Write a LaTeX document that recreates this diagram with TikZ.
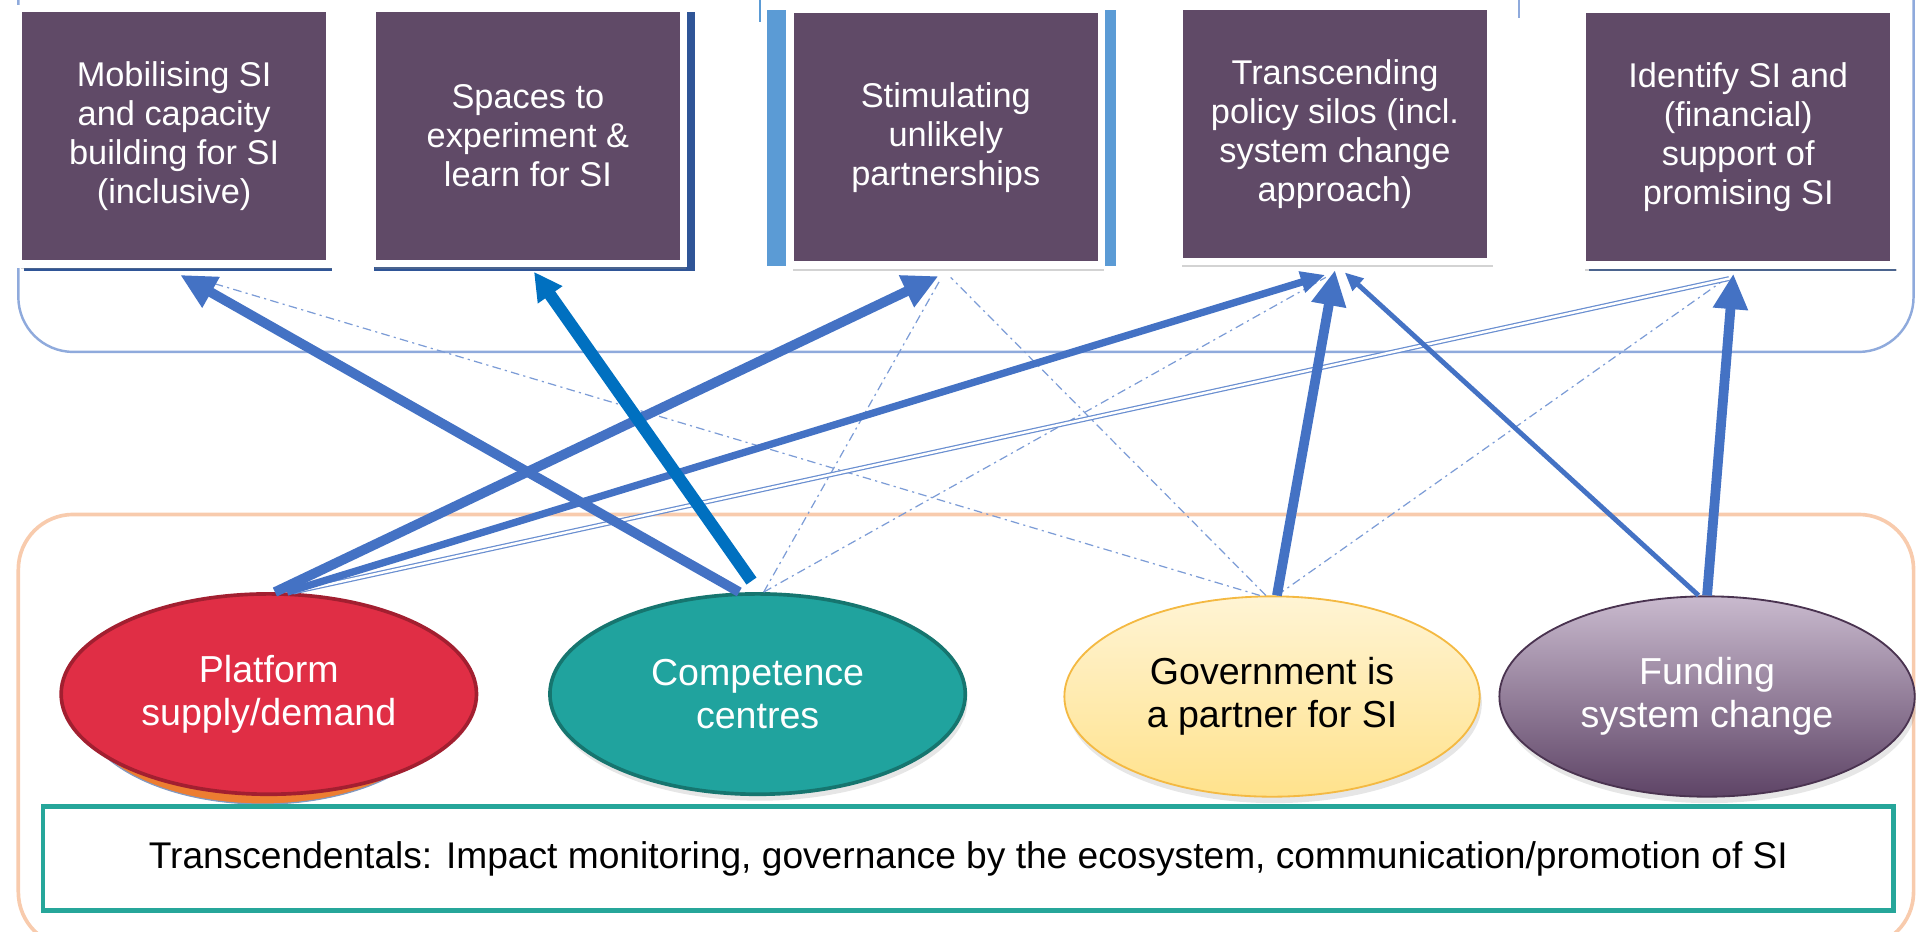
\documentclass[tikz,border=0pt]{standalone}
\usepackage{fontspec}
\setmainfont{Liberation Sans}
\usetikzlibrary{shapes.geometric,arrows.meta,shadows}

\definecolor{boxpurple}{RGB}{96,74,103}
\definecolor{arrowblue}{RGB}{68,114,196}
\definecolor{deepblue}{RGB}{0,112,192}
\definecolor{lineblue}{RGB}{143,170,220}
\definecolor{frameblue}{RGB}{91,155,213}
\definecolor{shadowblue}{RGB}{47,85,151}
\definecolor{peach}{RGB}{248,203,173}
\definecolor{platred}{RGB}{224,46,69}
\definecolor{platborder}{RGB}{162,31,48}
\definecolor{platorange}{RGB}{237,125,49}
\definecolor{compteal}{RGB}{32,163,158}
\definecolor{compborder}{RGB}{22,117,111}
\definecolor{govtop}{RGB}{255,244,212}
\definecolor{govbottom}{RGB}{255,226,140}
\definecolor{govborder}{RGB}{244,185,66}
\definecolor{fundtop}{RGB}{201,186,206}
\definecolor{fundbottom}{RGB}{94,68,102}
\definecolor{fundborder}{RGB}{74,51,80}
\definecolor{tealframe}{RGB}{38,166,154}

\tikzset{
  goalbox/.style={draw=white, line width=0.12cm, fill=boxpurple, text=white,
    minimum width=5.1cm, minimum height=4.18cm, inner sep=0pt, align=center,
    font=\fontsize{16}{18.2}\selectfont,
    drop shadow={opacity=0.35, shadow xshift=1.2pt, shadow yshift=-2.5pt}},
  levercircle/.style={ellipse, line width=0.06cm, minimum width=6.8cm,
    minimum height=3.28cm, inner sep=0pt, align=center,
    font=\fontsize{17.5}{20}\selectfont},
  strongarrow/.style={arrowblue, line width=0.16cm,
    -{Triangle[length=0.58cm,width=0.54cm]}},
  weaklink/.style={arrowblue!70, line width=0.02cm,
    dash pattern=on 4pt off 2pt on 1pt off 2pt}
}

\begin{document}
\begin{tikzpicture}[x=0.02cm,y=-0.02cm]
  \useasboundingbox (0,0) rectangle (1568,762);

  % 上下两个圆角框
  \draw[lineblue, line width=0.04cm, rounded corners=0.9cm] (15,-60) rectangle (1566,288);
  \draw[peach, line width=0.06cm, rounded corners=0.9cm] (15,421) rectangle (1566,775);

  % 方框后面的蓝色底
  \fill[shadowblue] (20,200) rectangle (272,222);
  \fill[shadowblue] (306,10) rectangle (569,222);
  \fill[frameblue] (628,8) rectangle (913,218);
  \fill[shadowblue] (1300,200) rectangle (1552,222);
  \draw[frameblue, line width=0.03cm] (622,0) -- (622,18);
  \draw[lineblue, line width=0.03cm] (1243,0) -- (1243,15);

  % 上排五个方框
  \node[goalbox] (mob) at (142.5,111.5) {Mobilising SI\\and capacity\\building for SI\\(inclusive)};
  \node[goalbox] (spaces) at (432,111) {Spaces to\\experiment \&\\learn for SI};
  \node[goalbox] (stim) at (774,112.5) {Stimulating\\unlikely\\partnerships};
  \node[goalbox] (trans) at (1092.5,109.5) {Transcending\\policy silos (incl.\\system change\\approach)};
  \node[goalbox] (ident) at (1422.5,112.5) {Identify SI and\\(financial)\\support of\\promising SI};

  % 下排四个椭圆
  \fill[platorange, draw=shadowblue!60, line width=0.02cm] (215,578) ellipse (150 and 80);
  \node[levercircle, draw=platborder, fill=platred, text=white] (plat) at (220,568) {Platform\\supply/demand};
  \node[levercircle, draw=compborder, fill=compteal, text=white,
    drop shadow={opacity=0.2, shadow xshift=1pt, shadow yshift=-3pt}] (comp) at (620,568) {Competence\\centres};
  \node[levercircle, draw=govborder, line width=0.03cm, top color=govtop, bottom color=govbottom, text=black,
    drop shadow={opacity=0.2, shadow xshift=1pt, shadow yshift=-3pt}] (gov) at (1041,570) {Government is\\a partner for SI};
  \node[levercircle, draw=fundborder, line width=0.03cm, top color=fundtop, bottom color=fundbottom, text=white,
    drop shadow={opacity=0.2, shadow xshift=1pt, shadow yshift=-3pt}] (fund) at (1397,570) {Funding\\system change};

  % 虚线联系
  \draw[weaklink] ([xshift=-0.2cm]gov.north) -- ([xshift=0.45cm,yshift=-0.2cm]mob.south);
  \draw[weaklink] ([xshift=0.1cm]comp.north) -- ([xshift=-0.08cm,yshift=-0.16cm]stim.south);
  \draw[weaklink] ([xshift=0.1cm]comp.north) -- ([xshift=-0.15cm,yshift=-0.2cm]trans.south);
  \draw[weaklink] ([xshift=-0.1cm]gov.north) -- ([xshift=0.08cm,yshift=-0.14cm]stim.south);
  \draw[weaklink] ([xshift=0.08cm]gov.north) -- ([xshift=-0.2cm,yshift=-0.16cm]ident.south);

  % 实线箭头
  \draw[arrowblue!80, line width=0.02cm, double=white, double distance=0.04cm]
    ([xshift=0.4cm]plat.north) -- ([xshift=-0.15cm,yshift=-0.16cm]ident.south);
  \draw[arrowblue, line width=0.12cm, -{Triangle[length=0.4cm,width=0.34cm]}]
    ([xshift=0.3cm]plat.north) -- ([xshift=-0.16cm,yshift=-0.16cm]trans.south);
  \draw[strongarrow] ([xshift=0.1cm]plat.north) -- ([xshift=-0.12cm,yshift=-0.12cm]stim.south);
  \draw[strongarrow] ([xshift=-0.3cm]comp.north) -- ([xshift=0.1cm,yshift=-0.12cm]mob.south);
  \draw[deepblue, line width=0.2cm, -{Triangle[length=0.46cm,width=0.46cm]}]
    ([xshift=-0.1cm,yshift=0.18cm]comp.north) -- ([xshift=0.1cm,yshift=-0.08cm]spaces.south);
  \draw[strongarrow] ([xshift=0.08cm]gov.north) -- ([yshift=-0.08cm]trans.south);
  \draw[arrowblue, line width=0.08cm, -{Triangle[length=0.3cm,width=0.26cm]}]
    ([xshift=-0.14cm]fund.north) -- ([xshift=0.16cm,yshift=-0.12cm]trans.south);
  \draw[strongarrow] (fund.north) -- ([xshift=-0.08cm,yshift=-0.08cm]ident.south);

  % 底部说明框
  \node[draw=tealframe, line width=0.08cm, fill=white, minimum width=30.3cm, minimum height=1.7cm,
    font=\fontsize{17.3}{20}\selectfont] (trend) at (792.5,702.5)
    {Transcendentals: Impact monitoring, governance by the ecosystem, communication/promotion of SI};
\end{tikzpicture}
\end{document}
